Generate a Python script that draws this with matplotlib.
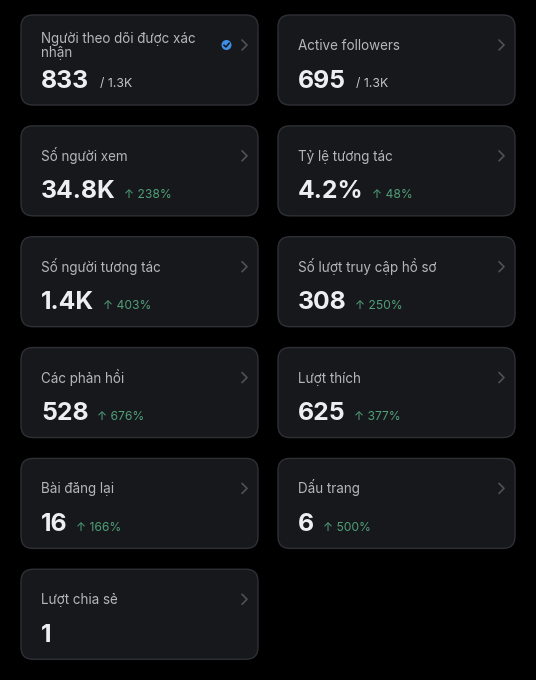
import matplotlib
matplotlib.use("Agg")
import matplotlib.pyplot as plt
from matplotlib.patches import FancyBboxPatch, Circle

titles = ["Người theo dõi được xác\nnhận", "Active followers", "Số người xem", "Tỷ lệ tương tác",
          "Số người tương tác", "Số lượt truy cập hồ sơ", "Các phản hồi", "Lượt thích",
          "Bài đăng lại", "Dấu trang", "Lượt chia sẻ"]
values = ["833", "695", "34.8K", "4.2%", "1.4K", "308", "528", "625", "16", "6", "1"]
changes = ["/ 1.3K", "/ 1.3K", "↑ 238%", "↑ 48%", "↑ 403%", "↑ 250%", "↑ 676%", "↑ 377%", "↑ 166%", "↑ 500%", ""]

FONT = "Inter"
GREEN = "#4f9f78"
fig = plt.figure(figsize=(5.36, 6.8), dpi=100, facecolor="black")
ax = fig.add_axes([0, 0, 1, 1])
ax.set_xlim(0, 536)
ax.set_ylim(680, 0)
ax.axis("off")
renderer = fig.canvas.get_renderer()

for i, (t, v, c) in enumerate(zip(titles, values, changes)):
    x0 = 21 + (i % 2) * 257
    y0 = 15 + (i // 2) * 110.85
    ax.add_patch(FancyBboxPatch((x0 + 12, y0 + 12), 237 - 24, 90 - 24,
                                boxstyle="round,pad=12,rounding_size=12",
                                fc="#17181c", ec="#2e3035", lw=1))
    if "\n" in t:
        ax.text(x0 + 20, y0 + 42, t, color="#b3b6ba", fontsize=9.7, family=FONT,
                va="baseline", ha="left", linespacing=1.03)
    else:
        ax.text(x0 + 20, y0 + 35, t, color="#b3b6ba", fontsize=9.7, family=FONT,
                va="baseline", ha="left")
    vt = ax.text(x0 + 20, y0 + 72.5, v, color="#eceef0", fontsize=17.8, family=FONT,
                 fontweight="bold", va="baseline", ha="left")
    right = vt.get_window_extent(renderer).x1
    if c.startswith("/"):
        ax.text(right + 10.5, y0 + 72.5, c, color="#c4c6ca", fontsize=8.8, family=FONT,
                va="baseline", ha="left")
    elif c:
        ax.text(right + 8.5, y0 + 72.5, c, color=GREEN, fontsize=8.7,
                family=[FONT, "DejaVu Sans"], va="baseline", ha="left")
    # chevron
    ax.plot([x0 + 221, x0 + 226, x0 + 221], [y0 + 25, y0 + 30, y0 + 35],
            color="#4e5156", lw=1.2, solid_capstyle="round", solid_joinstyle="round")

# verified badge on the first card
ax.add_patch(Circle((226.5, 45), 5, fc="#3f8fe8", ec="none"))
ax.plot([224, 226, 229.2], [45.2, 47, 43.2], color="#10151c", lw=1.1)

fig.savefig("out.png", dpi=100, facecolor="black")
